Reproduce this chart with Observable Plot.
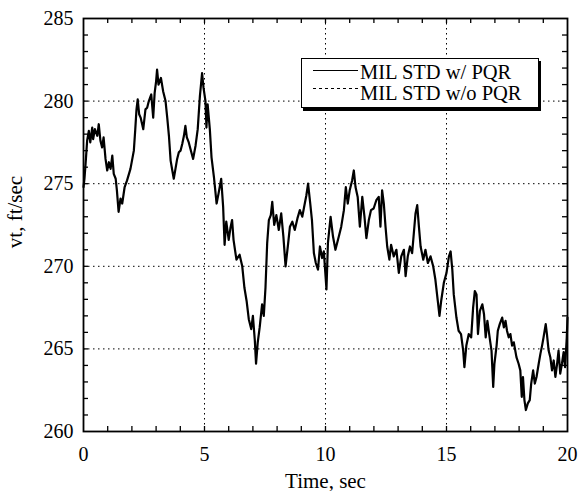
<!DOCTYPE html>
<html><head><meta charset="utf-8">
<script src="https://cdn.jsdelivr.net/npm/d3@7"></script>
<script src="https://cdn.jsdelivr.net/npm/@observablehq/plot@0.6"></script>
<style>
body{margin:0;background:#fff;}
#wrap{position:relative;width:578px;height:491px;}
#legend{position:absolute;left:301px;top:58px;width:236px;height:48px;border:1.5px solid #000;box-shadow:2px 3px 0 #000;background:#fff;font-family:"Liberation Serif",serif;font-size:20.5px;line-height:20px;}
#legend .row{position:absolute;left:0;white-space:nowrap;height:20px;}
#legend svg{position:absolute;left:0;top:0;}
</style></head><body><div id="wrap"></div>
<script>
// time (s), vt (ft/sec) pairs
const seg1 = [[0,274.8],[0.04,275.3],[0.1,276.5],[0.15,277.6],[0.22,278.2],[0.28,277.5],[0.36,278.4],[0.4,277.7],[0.47,278.3],[0.57,277.9],[0.63,278.6],[0.7,277.6],[0.77,277.2],[0.83,277.8],[0.91,276.5],[0.98,275.8],[1.05,276.3],[1.12,275.9],[1.19,276.7],[1.25,275.6],[1.33,275.3],[1.38,274.6],[1.45,273.3],[1.53,274.1],[1.6,273.8],[1.7,274.8],[1.8,275.2],[1.94,275.9],[2.08,277.0],[2.14,278.3],[2.19,279.5],[2.24,280.1],[2.3,279.2],[2.36,279.0],[2.47,278.3],[2.56,279.5],[2.63,279.6],[2.7,280.0],[2.8,280.4],[2.88,279.0],[2.94,280.5],[3.0,281.2],[3.04,281.9],[3.1,281.0],[3.2,281.4],[3.29,280.6],[3.39,280.0],[3.46,279.0],[3.53,277.9],[3.6,276.4],[3.67,275.8],[3.73,275.3],[3.8,275.9],[3.87,276.5],[3.94,276.9],[4.01,277.0],[4.08,277.4],[4.15,277.9],[4.21,278.5],[4.27,277.8],[4.35,277.5],[4.42,277.1],[4.53,276.5],[4.63,277.3],[4.72,278.3],[4.81,280.3],[4.9,281.7],[4.96,280.8]];
const seg2 = [[5.04,280.0],[5.08,278.4],[5.13,279.8],[5.22,278.3],[5.29,276.6],[5.39,275.4],[5.5,273.8],[5.58,274.4],[5.69,275.3],[5.77,273.6],[5.83,271.3],[5.9,272.7],[6.0,271.6],[6.07,272.3],[6.14,272.8],[6.2,271.6],[6.32,270.4],[6.45,270.7],[6.56,270.0],[6.65,268.7],[6.74,267.9],[6.83,266.8],[6.93,266.2],[7.0,267.0],[7.08,265.5],[7.13,264.1],[7.2,265.4],[7.28,266.3],[7.38,267.7],[7.45,267.0],[7.52,268.7],[7.59,271.4],[7.66,272.8],[7.74,273.1],[7.8,273.9],[7.88,272.5],[7.97,273.1],[8.07,272.2],[8.17,273.2],[8.26,271.8],[8.35,270.0],[8.45,271.3],[8.53,272.4],[8.63,272.7],[8.73,272.2],[8.84,272.9],[8.94,273.4],[9.04,273.0],[9.13,273.7],[9.21,274.3],[9.28,275.0],[9.37,273.8],[9.44,272.8],[9.52,270.8],[9.6,270.2],[9.69,269.8],[9.77,271.2],[9.86,270.5],[9.93,270.9]];
const seg3 = [[10.04,268.6],[10.1,271.4],[10.21,273.0],[10.31,271.8],[10.41,271.0],[10.55,271.8],[10.65,272.4],[10.76,273.4],[10.84,274.8],[10.92,273.8],[11.0,274.6],[11.1,275.2],[11.17,275.8],[11.24,274.8],[11.33,274.2],[11.42,272.4],[11.52,274.2],[11.61,273.0],[11.69,271.7],[11.79,272.8],[11.88,273.4],[11.99,273.5],[12.1,274.0],[12.2,274.2],[12.27,272.4],[12.34,274.6],[12.41,273.8],[12.48,272.4],[12.55,271.2],[12.64,270.4],[12.71,271.3],[12.82,270.6],[12.93,271.0],[13.03,269.6],[13.13,270.6],[13.24,271.0],[13.31,269.4],[13.4,270.6],[13.49,271.2],[13.58,270.8],[13.65,272.0],[13.72,273.2],[13.79,273.7],[13.86,272.4],[13.93,271.2],[14.04,270.4],[14.13,271.0],[14.23,270.2],[14.34,270.6],[14.45,270.0],[14.54,269.2],[14.64,267.9],[14.71,267.0],[14.78,267.9],[14.89,269.0]];
const seg4 = [[15.0,269.6],[15.1,270.6],[15.17,270.9],[15.24,269.8],[15.3,268.3],[15.41,266.9],[15.5,266.1],[15.6,265.9],[15.69,264.9],[15.74,263.9],[15.82,265.2],[15.92,265.9],[16.02,265.7],[16.1,267.5],[16.17,268.5],[16.24,268.3],[16.3,265.9],[16.38,267.3],[16.48,267.7],[16.55,267.1],[16.62,265.7],[16.69,266.7],[16.8,265.5],[16.86,264.9],[16.93,262.7],[16.98,264.1],[17.07,265.2],[17.12,266.1],[17.2,266.5],[17.3,266.9],[17.37,266.3],[17.44,266.7],[17.5,266.1],[17.57,265.7],[17.64,265.9],[17.71,265.2],[17.78,265.4],[17.89,264.5],[17.98,264.1],[18.05,263.7],[18.11,262.1],[18.16,263.3],[18.22,261.9],[18.28,261.3],[18.36,261.7],[18.44,261.9],[18.5,262.9],[18.58,263.7],[18.65,262.9],[18.72,263.3],[18.81,264.1],[18.88,264.7],[18.95,265.2],[19.01,265.7],[19.1,266.5],[19.15,265.9],[19.22,264.9],[19.29,264.5],[19.36,263.7],[19.43,264.3],[19.5,263.3],[19.57,264.1],[19.63,264.9],[19.7,263.5],[19.77,264.1],[19.84,264.8],[19.9,263.9],[19.97,265.7],[20.0,266.9]];

const xMajor = [0, 5, 10, 15, 20];
const yMajor = [260, 265, 270, 275, 280, 285];
const xGrid = [5, 10, 15];
const yGrid = [265, 270, 275, 280];
const xTicks = [1,2,3,4,5,6,7,8,9,10,11,12,13,14,15,16,17,18,19];
const yTicks = [261,262,263,264,265,266,267,268,269,270,271,272,273,274,275,276,277,278,279,280,281,282,283,284];
const seriesNames = ["MIL STD w/ PQR", "MIL STD w/o PQR"];
const xLabel = "Time, sec";
const yLabel = "vt, ft/sec";

const data = [...seg1, ...seg2, ...seg3, ...seg4].map(([t, v]) => ({t, v}));

const W = 578, H = 491, mL = 83, mR = 11, mT = 18, mB = 60;
const fw = W - mL - mR, fh = H - mT - mB, tl = 5;
const tickStyle = {stroke: "black", strokeWidth: 1.3};
const chart = Plot.plot({
  width: W, height: H,
  marginLeft: mL, marginRight: mR, marginTop: mT, marginBottom: mB,
  style: {fontFamily: "Liberation Serif, serif", fontSize: "20px", color: "black", background: "white"},
  x: {domain: [0, 20]},
  y: {domain: [260, 285]},
  marks: [
    Plot.gridX(xGrid, {stroke: "black", strokeOpacity: 1, strokeWidth: 1, strokeDasharray: "1.5,3.5"}),
    Plot.gridY(yGrid, {stroke: "black", strokeOpacity: 1, strokeWidth: 1, strokeDasharray: "1.5,3.5"}),
    Plot.axisX(xMajor, {anchor: "bottom", tickSize: 0, tickPadding: 15, label: null, stroke: "black", strokeWidth: 0.3}),
    Plot.axisY(yMajor, {anchor: "left", tickSize: 0, tickPadding: 10, label: null, stroke: "black", strokeWidth: 0.3}),
    // inward ticks on all four sides
    Plot.ruleX(xTicks, {x: d => d, insetTop: fh - tl, ...tickStyle}),
    Plot.ruleX(xTicks, {x: d => d, insetBottom: fh - tl, ...tickStyle}),
    Plot.ruleY(yTicks, {y: d => d, insetRight: fw - tl, ...tickStyle}),
    Plot.ruleY(yTicks, {y: d => d, insetLeft: fw - tl, ...tickStyle}),
    Plot.line(data, {x: "t", y: "v", stroke: "black", strokeWidth: 2.2}),
    Plot.frame({stroke: "black", strokeWidth: 1.8}),
    Plot.text([xLabel], {frameAnchor: "bottom", dy: 56, fontSize: 21, fill: "black"}),
    Plot.text([yLabel], {frameAnchor: "left", textAnchor: "middle", dx: -68, dy: -13, rotate: -90, fontSize: 21, fill: "black"})
  ]
});

const wrap = document.getElementById("wrap");
wrap.appendChild(chart);
const legend = document.createElement("div");
legend.id = "legend";
legend.innerHTML = `<svg width="60" height="48"><line x1="11" x2="56" y1="11.5" y2="11.5" stroke="black" stroke-width="1"/><line x1="11" x2="56" y1="29.5" y2="29.5" stroke="black" stroke-width="1" stroke-dasharray="3,3"/></svg>
<div class="row" style="left:58px;top:3px">${seriesNames[0]}</div>
<div class="row" style="left:58px;top:24px">${seriesNames[1]}</div>`;
wrap.appendChild(legend);
</script>
</body></html>
